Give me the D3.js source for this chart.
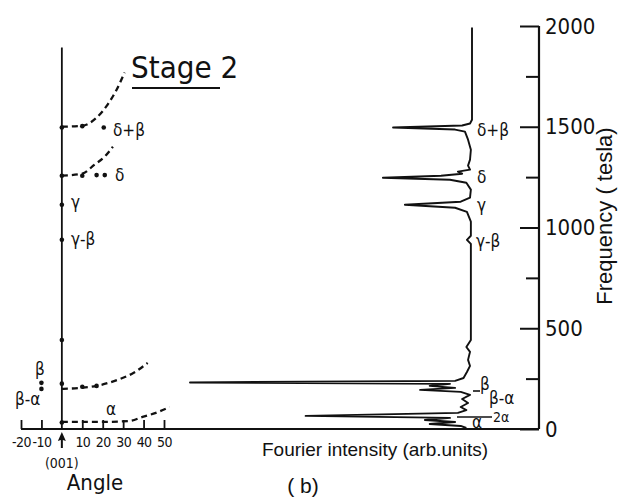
<!DOCTYPE html>
<html><head><meta charset="utf-8">
<script src="https://cdn.jsdelivr.net/npm/d3@7"></script>
<style>
body{margin:0;background:#fff;}
svg{display:block;}
text{fill:#111;}
</style></head><body>
<svg id="chart" width="619" height="500"></svg>
<script>
// Frequency axis ticks (tesla)
const freqTicks = [0, 500, 1000, 1500, 2000];
const freqMinorTicks = [250, 750, 1250, 1750];
// Angle axis ticks (degrees from [001])
const angleTicks = [-20, -10, 10, 20, 30, 40, 50];

// Angular dependence of the branches: [angle (deg), frequency (T)]
const branchDeltaBeta = [[0, 1500], [10, 1505], [17, 1545], [22.4, 1610], [26.8, 1684], [30.7, 1769]];
const branchDelta = [[0, 1257], [10, 1267], [16, 1312], [21, 1352], [25, 1401]];
const branchBetaAlpha = [[0, 199], [9, 204], [17, 214], [27, 243], [35, 278], [42, 328]];
const branchAlpha = [[0, 35], [18.5, 35], [33, 40], [39.5, 60], [46, 80], [52.7, 109]];

// Measured frequencies
const pointsAxis = [[0, 1496], [0, 1257], [0, 1113], [0, 939], [0, 442], [0, 225], [0, 32]];
const pointsMinus10 = [[-10, 229], [-10, 199]];
const pointsDelta = [[10, 1257], [17, 1260], [21, 1260]];
const pointsDeltaBeta = [[10, 1503], [20.5, 1496]];
const pointsBetaAlpha = [[10, 210], [17, 214]];

// Fourier spectrum along [001]: [frequency (T), intensity (arb.)]
const spectrum = [
  [1993, 0], [1535, 0], [1516, 0.7], [1506, 3.5], [1496, 28], [1486, 6], [1476, 2.5],
  [1436, 1.4], [1386, 0.4], [1337, 0.7], [1307, 1.4], [1287, 0.7], [1277, 5], [1267, 3.5],
  [1257, 11], [1247, 31.6], [1237, 7.8], [1222, 2], [1188, 0.4], [1148, 0.7], [1128, 4],
  [1113, 23.8], [1098, 6], [1078, 1.8], [1029, 0.4], [959, 0.4], [939, 1.8], [919, 0.4],
  [442, 0.4], [407, 2], [383, 0.7], [343, 1.4], [313, 0.7], [283, 1.8], [253, 3], [239, 6],
  [231, 100], [224, 7.8], [214, 15], [204, 6], [194, 18.4], [184, 4], [169, 0.7], [149, 3.5],
  [129, 1.4], [109, 4], [94, 2], [80, 5], [65, 59], [55, 7.8], [45, 16.7], [35, 6],
  [25, 15], [15, 4], [5, 2]
];

const NARROW = '"Liberation Sans Narrow","Arial Narrow","DejaVu Sans Condensed",sans-serif';
const REGULAR = '"Liberation Sans",Arial,sans-serif';

const svg = d3.select("#chart");

const fScale = d3.scaleLinear().domain([0, 2000]).range([429, 26]);
const aScale = d3.scaleLinear().domain([-20, 50]).range([21, 164]);
const iScale = d3.scaleLinear().domain([0, 100]).range([472, 190]);
const axisX = 539;

// ---------- right frequency axis ----------
const fAxis = svg.append("g").attr("transform", `translate(${axisX},0)`)
  .call(d3.axisRight(fScale).tickValues(freqTicks).tickSize(-19).tickPadding(6).tickFormat(d => d));
fAxis.select(".domain").remove();
fAxis.selectAll("line").attr("stroke", "#111").attr("stroke-width", 2);
fAxis.selectAll("text").attr("font-family", NARROW).attr("font-size", 22).attr("fill", "#111");

const fMinor = svg.append("g").attr("transform", `translate(${axisX},0)`)
  .call(d3.axisRight(fScale).tickValues(freqMinorTicks).tickSize(-13).tickFormat(""));
fMinor.select(".domain").remove();
fMinor.selectAll("line").attr("stroke", "#111").attr("stroke-width", 2);

svg.append("line")
  .attr("x1", axisX).attr("x2", axisX)
  .attr("y1", fScale(2000)).attr("y2", fScale(0))
  .attr("stroke", "#111").attr("stroke-width", 2.2);

svg.append("text")
  .attr("transform", `translate(612,216) rotate(-90)`)
  .attr("text-anchor", "middle")
  .attr("font-family", REGULAR).attr("font-size", 22)
  .text("Frequency ( tesla)");

// ---------- angle axis ----------
const aAxis = svg.append("g").attr("transform", `translate(0,${fScale(0)})`)
  .call(d3.axisBottom(aScale).tickValues(angleTicks).tickSize(-9).tickPadding(8).tickFormat(d => String(d)));
aAxis.select(".domain").remove();
aAxis.selectAll("line").attr("stroke", "#111").attr("stroke-width", 1.8);
aAxis.selectAll("text").attr("font-family", NARROW).attr("font-size", 14)
  .attr("letter-spacing", -0.6).attr("fill", "#111");

// bottom base line shared by both panels
svg.append("line")
  .attr("x1", aScale(-20)).attr("x2", axisX)
  .attr("y1", fScale(0)).attr("y2", fScale(0))
  .attr("stroke", "#111").attr("stroke-width", 2.2);

// [001] vertical line
svg.append("line")
  .attr("x1", aScale(0)).attr("x2", aScale(0))
  .attr("y1", fScale(1893)).attr("y2", fScale(0))
  .attr("stroke", "#111").attr("stroke-width", 1.8);

// arrow marking [001]
const ax0 = aScale(0);
svg.append("path")
  .attr("d", `M${ax0},432 L${ax0 - 4},441 L${ax0 - 1},440 L${ax0 - 1},448 L${ax0 + 1},448 L${ax0 + 1},440 L${ax0 + 4},441 Z`)
  .attr("fill", "#111");

svg.append("text").attr("x", ax0).attr("y", 468).attr("text-anchor", "middle")
  .attr("font-family", NARROW).attr("font-size", 14).text("(001)");
svg.append("text").attr("x", 95).attr("y", 490).attr("text-anchor", "middle")
  .attr("font-family", NARROW).attr("font-size", 22).text("Angle");

// ---------- angular branches ----------
const branchLine = d3.line().curve(d3.curveMonotoneX)
  .x(d => aScale(d[0])).y(d => fScale(d[1]));
[branchDeltaBeta, branchDelta, branchBetaAlpha, branchAlpha].forEach(b => {
  svg.append("path").attr("d", branchLine(b))
    .attr("fill", "none").attr("stroke", "#111").attr("stroke-width", 2.3)
    .attr("stroke-dasharray", "6,4");
});

const allPoints = [].concat(pointsAxis, pointsMinus10, pointsDelta, pointsDeltaBeta, pointsBetaAlpha);
svg.append("g").selectAll("circle").data(allPoints).join("circle")
  .attr("cx", d => aScale(d[0])).attr("cy", d => fScale(d[1])).attr("r", 2.3)
  .attr("fill", "#111");

// branch labels
const leftLabels = [
  {t: "δ+β", x: 113, y: 136, s: 17},
  {t: "δ", x: 115, y: 181, s: 17},
  {t: "γ", x: 71, y: 208, s: 17},
  {t: "γ-β", x: 71, y: 245, s: 17},
  {t: "β", x: 35, y: 375, s: 17},
  {t: "β-α", x: 15, y: 405, s: 17},
  {t: "α", x: 106, y: 415, s: 17}
];
svg.append("g").selectAll("text").data(leftLabels).join("text")
  .attr("x", d => d.x).attr("y", d => d.y).attr("font-size", d => d.s)
  .attr("font-family", NARROW).text(d => d.t);

// title
svg.append("text").attr("x", 131).attr("y", 78)
  .attr("font-family", NARROW).attr("font-size", 31).text("Stage 2");
svg.append("line").attr("x1", 132).attr("x2", 220).attr("y1", 88).attr("y2", 88)
  .attr("stroke", "#111").attr("stroke-width", 2);

// ---------- Fourier spectrum ----------
const specLine = d3.line().x(d => iScale(d[1])).y(d => fScale(d[0]));
svg.append("path").attr("d", specLine(spectrum))
  .attr("fill", "none").attr("stroke", "#111").attr("stroke-width", 1.9)
  .attr("stroke-linejoin", "round");

const rightLabels = [
  {t: "δ+β", x: 477, y: 136, s: 17},
  {t: "δ", x: 477, y: 183, s: 17},
  {t: "γ", x: 477, y: 211, s: 17},
  {t: "γ-β", x: 476, y: 247, s: 17},
  {t: "β", x: 480, y: 390, s: 17},
  {t: "β-α", x: 489, y: 404, s: 17},
  {t: "2α", x: 493, y: 422, s: 14},
  {t: "α", x: 472, y: 428, s: 17}
];
svg.append("g").selectAll("text").data(rightLabels).join("text")
  .attr("x", d => d.x).attr("y", d => d.y).attr("font-size", d => d.s)
  .attr("font-family", NARROW).text(d => d.t);

// leader lines for β and 2α
svg.append("line").attr("x1", 473).attr("x2", 480).attr("y1", 391).attr("y2", 391)
  .attr("stroke", "#111").attr("stroke-width", 1.6);
svg.append("line").attr("x1", 457).attr("x2", 492).attr("y1", 417).attr("y2", 417)
  .attr("stroke", "#111").attr("stroke-width", 1.6);

svg.append("text").attr("x", 375).attr("y", 456).attr("text-anchor", "middle")
  .attr("font-family", REGULAR).attr("font-size", 19).text("Fourier intensity (arb.units)");
svg.append("text").attr("x", 303).attr("y", 493).attr("text-anchor", "middle")
  .attr("font-family", REGULAR).attr("font-size", 21).text("( b)");
</script>
</body></html>
